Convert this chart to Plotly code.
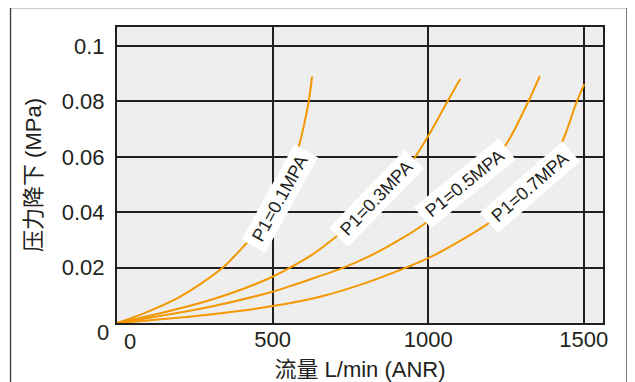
import plotly.graph_objects as go

# ---- data ----
x_p01 = [0, 86, 193, 270, 340, 418, 480, 530, 584, 602, 616, 627]
y_p01 = [0, 0.0035, 0.0089, 0.0142, 0.020, 0.029, 0.0365, 0.046, 0.0637, 0.072, 0.080, 0.089]

x_p03 = [0, 139, 300, 400, 500, 550, 625, 701, 780, 860, 953, 1000, 1062, 1103]
y_p03 = [0, 0.0035, 0.0083, 0.0121, 0.0167, 0.0196, 0.0245, 0.0309, 0.0378, 0.0465, 0.0591, 0.0675, 0.080, 0.0881]

x_p05 = [0, 300, 500, 557, 640, 728, 820, 920, 1006, 1080, 1170, 1253, 1322, 1359]
y_p05 = [0, 0.0059, 0.0113, 0.0133, 0.0165, 0.020, 0.0246, 0.0308, 0.0372, 0.0435, 0.0528, 0.0649, 0.080, 0.0892]

x_p07 = [0, 300, 500, 653, 800, 929, 1000, 1100, 1194, 1260, 1330, 1390, 1429, 1478, 1502]
y_p07 = [0, 0.0031, 0.0061, 0.0095, 0.0145, 0.020, 0.0234, 0.0295, 0.036, 0.0416, 0.0488, 0.0575, 0.0649, 0.080, 0.0863]

series_names = ["P1=0.1MPA", "P1=0.3MPA", "P1=0.5MPA", "P1=0.7MPA"]
series_x = [x_p01, x_p03, x_p05, x_p07]
series_y = [y_p01, y_p03, y_p05, y_p07]

# label placement (data coords) and angles
label_x = [525, 834, 1120, 1328]
label_y = [0.0450, 0.0453, 0.0504, 0.0491]
label_angle = [-61, -46, -39, -41]

x_tickvals = [500, 1000, 1500]
x_ticktext = ["500", "1000", "1500"]
y_tickvals = [0.02, 0.04, 0.06, 0.08, 0.1]
y_ticktext = ["0.02", "0.04", "0.06", "0.08", "0.1"]

x_title = "流量 L/min (ANR)"
y_title = "压力降下 (MPa)"

ORANGE = "#f39800"
DARK = "#231f20"
FONT = "Liberation Sans, Arial, Noto Sans CJK SC, sans-serif"

fig = go.Figure()
for name, xs, ys in zip(series_names, series_x, series_y):
    fig.add_trace(go.Scatter(
        x=xs, y=ys, mode="lines", name=name,
        line=dict(color=ORANGE, width=2, shape="spline", smoothing=1.0),
        hoverinfo="skip",
    ))

annotations = []
for name, lx, ly, ang in zip(series_names, label_x, label_y, label_angle):
    annotations.append(dict(
        x=lx, y=ly, xref="x", yref="y", text=name, showarrow=False,
        textangle=ang, bgcolor="white", borderpad=0, width=108, height=26,
        font=dict(family=FONT, size=18, color=DARK),
        xanchor="center", yanchor="middle",
    ))

# the "0" labels are offset in the reference
annotations.append(dict(x=0, y=0, xref="paper", yref="y", text="0", showarrow=False,
                        xanchor="right", yanchor="middle", xshift=-6, yshift=-9,
                        font=dict(family=FONT, size=22, color=DARK)))
annotations.append(dict(x=0, y=0, xref="x", yref="paper", text="0", showarrow=False,
                        xanchor="center", yanchor="middle", xshift=13, yshift=-18,
                        font=dict(family=FONT, size=22, color=DARK)))

# page body has an 8px default margin, so the figure is sized/offset for it
fig.update_layout(
    template="none",
    width=627, height=374,
    margin=dict(l=109, r=32, t=19, b=59, pad=0),
    paper_bgcolor="white", plot_bgcolor="#eeeeee",
    showlegend=False,
    font=dict(family=FONT, color=DARK),
    annotations=annotations,
    shapes=[dict(type="rect", xref="paper", yref="paper",
                 x0=-0.2191, x1=1.0494, y0=-0.5, y1=1.0659,
                 line=dict(color="#3a3536", width=1.3), layer="below")],
    xaxis=dict(
        automargin=False,
        range=[0, 1562], tickvals=x_tickvals, ticktext=x_ticktext,
        showgrid=True, gridcolor=DARK, gridwidth=2,
        showline=True, linecolor=DARK, linewidth=2, mirror=True,
        zeroline=False, ticks="", ticklabelstandoff=-4,
        tickfont=dict(family=FONT, size=22, color=DARK),
        title=dict(text=x_title, font=dict(family=FONT, size=22, color=DARK), standoff=22),
    ),
    yaxis=dict(
        automargin=False,
        range=[0, 0.1069], tickvals=y_tickvals, ticktext=y_ticktext,
        showgrid=True, gridcolor=DARK, gridwidth=2,
        showline=True, linecolor=DARK, linewidth=2, mirror=True,
        zeroline=False, ticks="", ticklabelstandoff=6,
        tickfont=dict(family=FONT, size=22, color=DARK),
        title=dict(text=y_title, font=dict(family=FONT, size=22, color=DARK), standoff=14),
    ),
)

fig.write_html("out.html")
